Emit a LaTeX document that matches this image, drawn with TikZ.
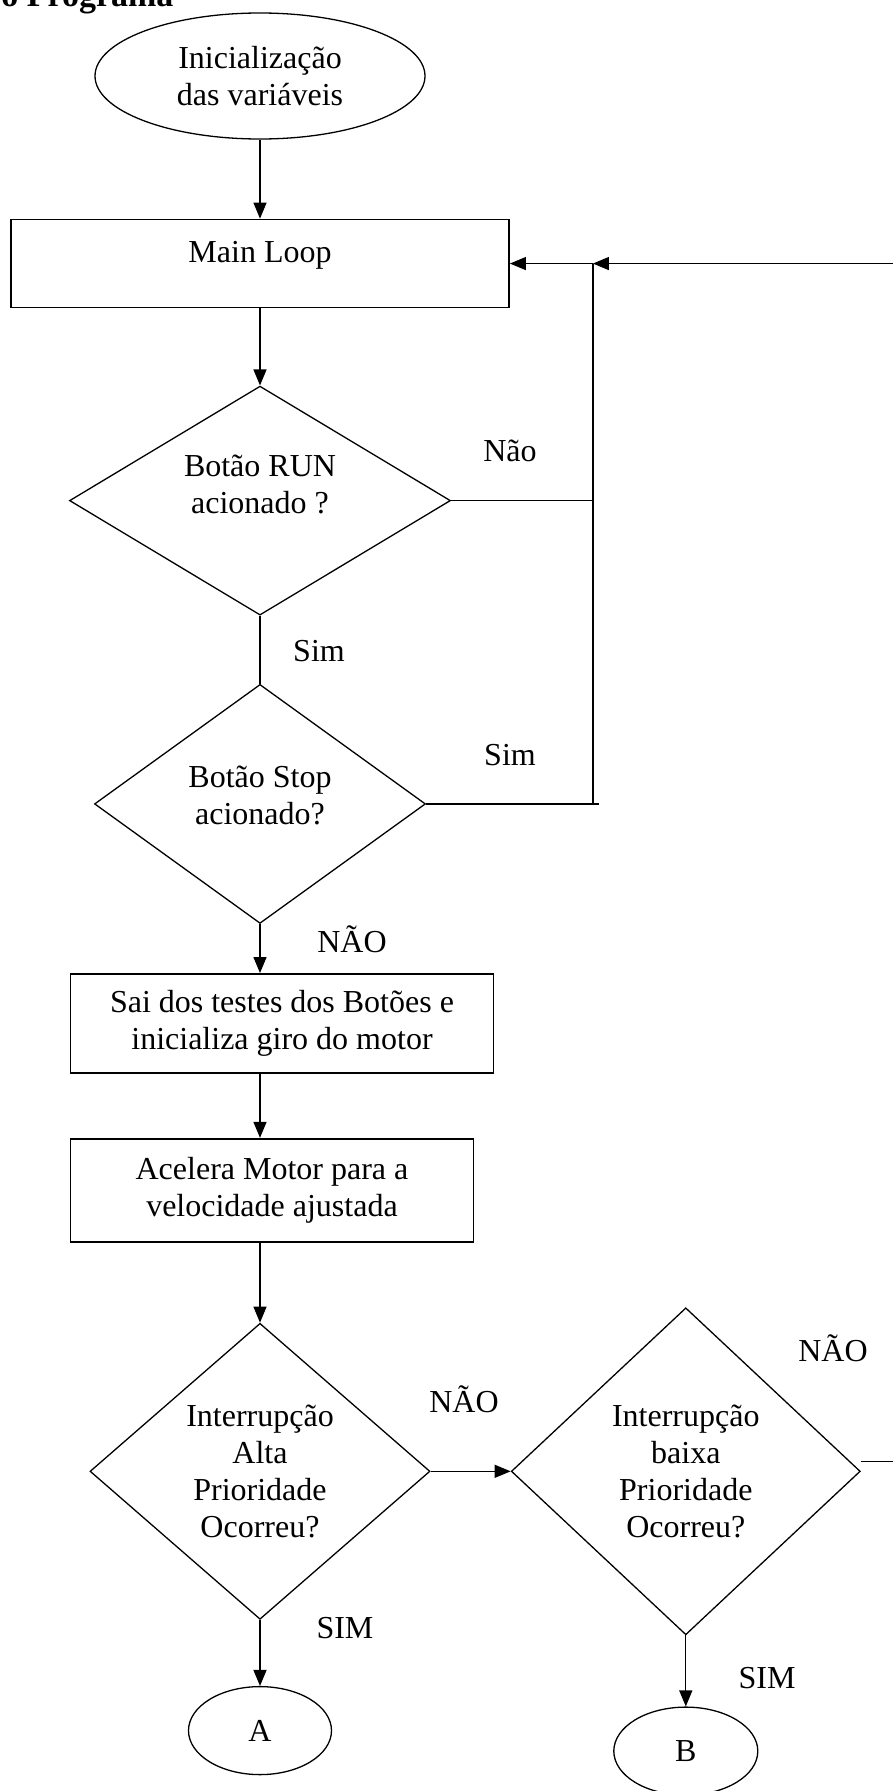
\documentclass[tikz,border=0pt]{standalone}
\usepackage{fontspec}
\setmainfont{Liberation Serif}
\usetikzlibrary{shapes.geometric, arrows.meta, positioning}

\tikzset{
	decision/.style={diamond, draw, line width=1.3pt, align=center, inner sep=0pt},
	process/.style={rectangle, draw, line width=1.8pt, align=center, inner sep=0pt},
	terminal/.style={ellipse, draw, line width=1.3pt, align=center, inner sep=0pt},
	lbl/.style={inner sep=0pt},
	arrow/.style={line width=1.3pt, -{Triangle[length=16pt, width=13pt]}},
	line/.style={line width=1.3pt}
}

\begin{document}
\begin{tikzpicture}[x=1pt, y=-1pt, font=\fontsize{32}{37}\selectfont]
		\useasboundingbox (0,0) rectangle (893,1791);

		\node[anchor=base east, font=\fontsize{34}{40}\selectfont\bfseries] (title) at (177,6) {o Programa};

		\node[terminal, minimum width=330pt, minimum height=126pt] (init) at (260,76) {Inicialização\\das variáveis};
		\node[process, below=79pt of init, minimum width=498pt, minimum height=88pt, text depth=24pt] (main) {Main Loop};

		\node[decision, shape aspect=2, below=77pt of main, minimum width=381pt, minimum height=229pt, text depth=32pt] (run) {Botão RUN\\acionado ?};
		\node[decision, shape aspect=2, below=68pt of run, minimum width=331pt, minimum height=239pt, text depth=18pt] (stop) {Botão Stop\\acionado?};

		\node[process, below=49pt of stop, xshift=22pt, minimum width=423pt, minimum height=99pt] (sai) {Sai dos testes dos Botões e\\inicializa giro do motor};
		\node[process, below=64pt of sai, xshift=-10pt, minimum width=403pt, minimum height=103pt] (acel) {Acelera Motor para a\\velocidade ajustada};

		\node[decision, below=80pt of acel, xshift=-12pt, minimum width=340pt, minimum height=296pt] (alta) {Interrupção\\Alta\\Prioridade\\Ocorreu?};
		\node[decision, right=80pt of alta, minimum width=349pt, minimum height=327pt] (baixa) {Interrupção\\baixa\\Prioridade\\Ocorreu?};

		\node[terminal, below=66pt of alta, minimum width=143pt, minimum height=88pt] (ca) {A};
		\node[terminal, below=71pt of baixa, minimum width=144pt, minimum height=88pt] (cb) {B};

		\coordinate[right=83pt of main] (jtop);
		\coordinate[right=390pt of main] (loopin);
		\coordinate[right=40pt of baixa] (loopout);

		% labels
		\node[lbl] (lrun) at (510,451) {Não};
		\node[lbl] (lrunsim) at (319,651) {Sim};
		\node[lbl] (lstop) at (510,755) {Sim};
		\node[lbl] (lstopnao) at (352,939) {NÃO};
		\node[lbl] (laltanao) at (464,1399) {NÃO};
		\node[lbl] (lbaixanao) at (833,1348) {NÃO};
		\node[lbl] (laltasim) at (345,1628) {SIM};
		\node[lbl] (lbaixasim) at (767,1678) {SIM};

		\draw[arrow] (init) -- (main);
		\draw[arrow] (main) -- (run);
		\draw[line] (run) -- (stop);
		\draw[arrow] (stop.south) -- (stop.south |- sai.north);
		\draw[arrow] (sai.south -| stop) -- (acel.north -| stop);
		\draw[arrow] (acel.south -| alta) -- (alta.north);
		\draw[arrow] (alta) -- (baixa);
		\draw[arrow] (alta) -- (ca);
		\draw[arrow] (baixa) -- (cb);

		\draw[line] (run.east) -- (run.east -| jtop);
		\draw[line] (stop.east) -- ([xshift=6pt]stop.east -| jtop);
		\draw[line] (jtop) -- (stop.east -| jtop);
		\draw[arrow] (loopin) -- (jtop);
		\draw[arrow] (jtop) -- (main.east);
		\draw[line] ([yshift=10pt]baixa.east) -- ([yshift=10pt]baixa.east -| loopout);

	\end{tikzpicture}
\end{document}
